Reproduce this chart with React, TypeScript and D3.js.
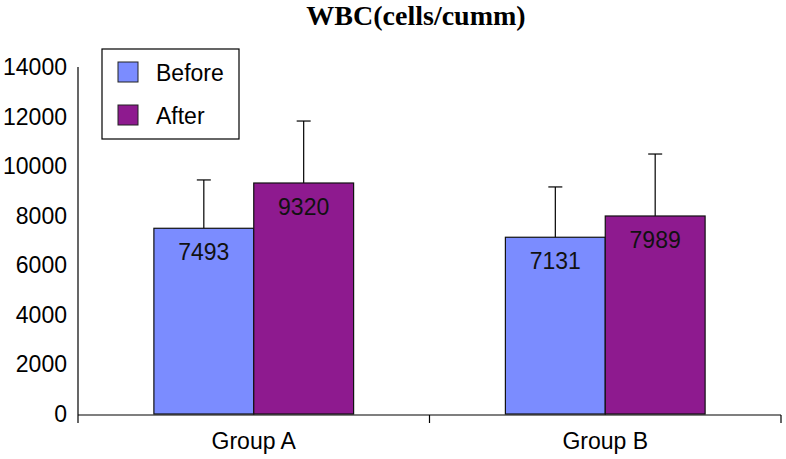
import React from "react";
import * as d3 from "d3";

const groups = ["Group A", "Group B"];
const series = ["Before", "After"];
const beforeValues = [7493, 7131];
const afterValues = [9320, 7989];
const beforeSD = [1950, 2030];
const afterSD = [2500, 2500];
const yTicks = [0, 2000, 4000, 6000, 8000, 10000, 12000, 14000];
const colors = ["#7b8cff", "#8e1a8f"];
const title = "WBC(cells/cumm)";

const W = 786;
const H = 459;
const left = 78;
const right = 781;
const top = 67;
const bottom = 414;

export default function App() {
  const y = d3.scaleLinear().domain([0, 14000]).range([bottom, top]);
  const x0 = d3.scaleBand<string>().domain(groups).range([left, right]).padding(0);
  const x1 = d3
    .scaleBand<string>()
    .domain(series)
    .range([0, x0.bandwidth()])
    .paddingInner(0)
    .paddingOuter(0.76);
  const values = [beforeValues, afterValues];
  const sds = [beforeSD, afterSD];
  const font = "'Liberation Sans', Arial, sans-serif";

  return (
    <svg
      width={W}
      height={H}
      style={{ position: "absolute", left: 0, top: 0, background: "#fff" }}
      fontFamily={font}
    >
      <text
        x={416}
        y={25}
        textAnchor="middle"
        fontFamily="'Liberation Serif', 'Times New Roman', serif"
        fontWeight="bold"
        fontSize={28}
      >
        {title}
      </text>

      {/* y axis */}
      <line x1={left} x2={left} y1={top} y2={bottom + 1} stroke="#000" strokeWidth={1.2} />
      {yTicks.map((t) => (
        <text key={t} x={67} y={y(t)} dy="0.35em" textAnchor="end" fontSize={23}>
          {t}
        </text>
      ))}

      {/* bars */}
      {groups.map((g, gi) =>
        series.map((s, si) => {
          const v = values[si][gi];
          const bx = (x0(g) as number) + (x1(s) as number);
          const bw = x1.bandwidth();
          const cx = bx + bw / 2;
          const eTop = y(v + sds[si][gi]);
          return (
            <g key={g + s}>
              <line x1={cx} x2={cx} y1={y(v)} y2={eTop} stroke="#000" strokeWidth={1.2} />
              <line x1={cx - 7} x2={cx + 7} y1={eTop} y2={eTop} stroke="#000" strokeWidth={1.2} />
              <rect
                x={bx}
                y={y(v)}
                width={bw}
                height={bottom - y(v)}
                fill={colors[si]}
                stroke="#111"
                strokeWidth={1.2}
              />
              <text x={cx} y={y(v) + 32} textAnchor="middle" fontSize={23} fill="#111">
                {v}
              </text>
            </g>
          );
        })
      )}

      {/* x axis */}
      <line x1={left} x2={right} y1={bottom + 1} y2={bottom + 1} stroke="#000" strokeWidth={1.2} />
      {[left, left + x0.bandwidth(), right].map((tx, i) => (
        <line key={i} x1={tx} x2={tx} y1={bottom + 1} y2={bottom + 9} stroke="#000" strokeWidth={1.2} />
      ))}
      {groups.map((g) => (
        <text
          key={g}
          x={(x0(g) as number) + x0.bandwidth() / 2}
          y={449}
          textAnchor="middle"
          fontSize={23}
        >
          {g}
        </text>
      ))}

      {/* legend */}
      <rect x={102} y={49} width={137} height={90} fill="#fff" stroke="#000" strokeWidth={1.2} />
      {series.map((s, i) => (
        <g key={s}>
          <rect x={118} y={62 + i * 43} width={20} height={20} fill={colors[i]} stroke="#222" strokeWidth={1} />
          <text x={156} y={81 + i * 43} fontSize={23}>
            {s}
          </text>
        </g>
      ))}
    </svg>
  );
}
